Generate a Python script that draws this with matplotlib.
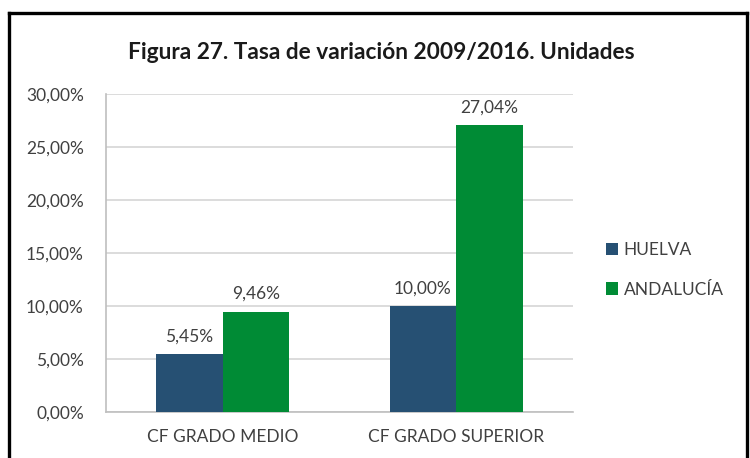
import matplotlib
matplotlib.use("Agg")
import matplotlib.pyplot as plt
from matplotlib.lines import Line2D
import numpy as np

# data
categorias = ["CF GRADO MEDIO", "CF GRADO SUPERIOR"]
huelva = [5.45, 10.00]
andalucia = [9.46, 27.04]
series = ["HUELVA", "ANDALUCÍA"]
yticks = [0, 5, 10, 15, 20, 25, 30]

azul = "#265073"
verde = "#008B35"
gris_txt = "#404040"
fs = 12.5

plt.rcParams["font.family"] = ["Lato", "DejaVu Sans"]

fig = plt.figure(figsize=(7.5, 4.58), dpi=100)
ax = fig.add_axes([0.1413, 0.1004, 0.6227, 0.6944])

x = np.arange(len(categorias))
w = 0.2857
b1 = ax.bar(x - w / 2, huelva, w, color=azul, label=series[0], zorder=3)
b2 = ax.bar(x + w / 2, andalucia, w, color=verde, label=series[1], zorder=3)

def fmt(v):
    return ("%.2f%%" % v).replace(".", ",")

ax.bar_label(b1, labels=[fmt(v) for v in huelva], padding=7,
             fontsize=fs, color=gris_txt)
ax.bar_label(b2, labels=[fmt(v) for v in andalucia], padding=7,
             fontsize=fs, color=gris_txt)

ax.set_xlim(-0.5, 1.5)
ax.set_ylim(0, 30)
ax.set_yticks(yticks)
ax.set_yticklabels([fmt(v) for v in yticks])
ax.set_xticks(x)
ax.set_xticklabels(categorias)
ax.tick_params(axis="y", length=0, pad=16, labelsize=fs, labelcolor=gris_txt)
ax.tick_params(axis="x", length=0, pad=12, labelsize=fs, labelcolor=gris_txt)

ax.grid(axis="y", color="#d9d9d9", linewidth=1.3, zorder=0)
for s in ["top", "right"]:
    ax.spines[s].set_visible(False)
for s in ["left", "bottom"]:
    ax.spines[s].set_color("#bfbfbf")
    ax.spines[s].set_linewidth(1.2)

ax.legend(loc="upper left", bbox_to_anchor=(1.055, 0.556), frameon=False,
          fontsize=fs, labelcolor=gris_txt, handlelength=0.7,
          handleheight=0.7, handletextpad=0.35, labelspacing=1.35,
          borderaxespad=0)

fig.text(0.509, 0.886, "Figura 27. Tasa de variación 2009/2016. Unidades",
         ha="center", va="center", fontsize=16.3, fontweight="bold",
         color="#1a1a1a")

# black frame around the chart (bottom edge is cut off in the reference)
W, H = 750, 458
xl, xr, yt = 8.5 / W, 746.5 / W, 1 - 13 / H
for xs, ys in [([xl, xl], [0, yt]), ([xl, xr], [yt, yt]), ([xr, xr], [yt, 0])]:
    fig.add_artist(Line2D(xs, ys, color="black", linewidth=2.4,
                          transform=fig.transFigure))

fig.savefig("out.png", dpi=100)
